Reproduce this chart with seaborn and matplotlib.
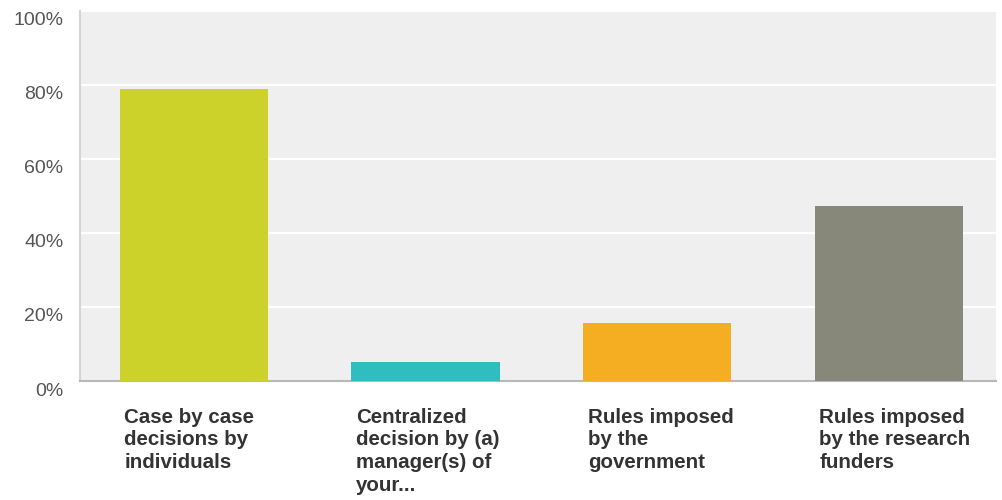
import matplotlib
matplotlib.use("Agg")
import matplotlib.pyplot as plt
import matplotlib.transforms as mtransforms
import seaborn as sns
import pandas as pd

categories = [
    "Case by case\ndecisions by\nindividuals",
    "Centralized\ndecision by (a)\nmanager(s) of\nyour...",
    "Rules imposed\nby the\ngovernment",
    "Rules imposed\nby the research\nfunders",
]
values = [78.9, 5.1, 15.7, 47.3]
colors = ["#CCD22A", "#2FBDBF", "#F5AE21", "#88887A"]
yticks = [0, 20, 40, 60, 80, 100]
ytick_labels = ["0%", "20%", "40%", "60%", "80%", "100%"]

sns.set_theme(style="white")
plt.rcParams["font.family"] = ["Liberation Sans", "DejaVu Sans"]

df = pd.DataFrame({"category": categories, "value": values})

fig = plt.figure(figsize=(10.02, 5.0), dpi=100)
ax = fig.add_axes([0.0798, 0.238, 0.914, 0.741])
ax.set_facecolor("#EFEFEF")

bar_width = 0.64
sns.barplot(data=df, x="category", y="value", hue="category",
            palette=colors, legend=False, width=bar_width,
            saturation=1, linewidth=0, ax=ax, zorder=3)

ax.set_ylim(0, 100)
ax.set_xlim(-0.491, 3.461)
ax.set_xlabel("")
ax.set_ylabel("")

ax.set_yticks(yticks)
ax.set_yticklabels(ytick_labels, fontsize=14, color="#555555")
ax.tick_params(axis="y", length=0, pad=12)
ax.yaxis.grid(True, color="white", linewidth=1.6, zorder=0)
ax.set_axisbelow(True)
offset = mtransforms.ScaledTranslation(0, -8 / 100, fig.dpi_scale_trans)
for lbl in ax.get_yticklabels():
    lbl.set_transform(lbl.get_transform() + offset)

# category labels left-aligned under each bar's left edge
ax.set_xticks([])
trans = mtransforms.blended_transform_factory(ax.transData, ax.transAxes)
for i, cat in enumerate(categories):
    ax.text(i - bar_width / 2 + 0.02, -0.072, cat, transform=trans,
            ha="left", va="top", fontsize=14.8, fontweight="bold",
            color="#333333", linespacing=1.25)

for side in ["top", "right"]:
    ax.spines[side].set_visible(False)
ax.spines["left"].set_color("#D4D4D4")
ax.spines["left"].set_linewidth(1.5)
ax.spines["bottom"].set_color("#B8B8B8")
ax.spines["bottom"].set_linewidth(1.5)

fig.savefig("out.png", dpi=100, facecolor="white")
